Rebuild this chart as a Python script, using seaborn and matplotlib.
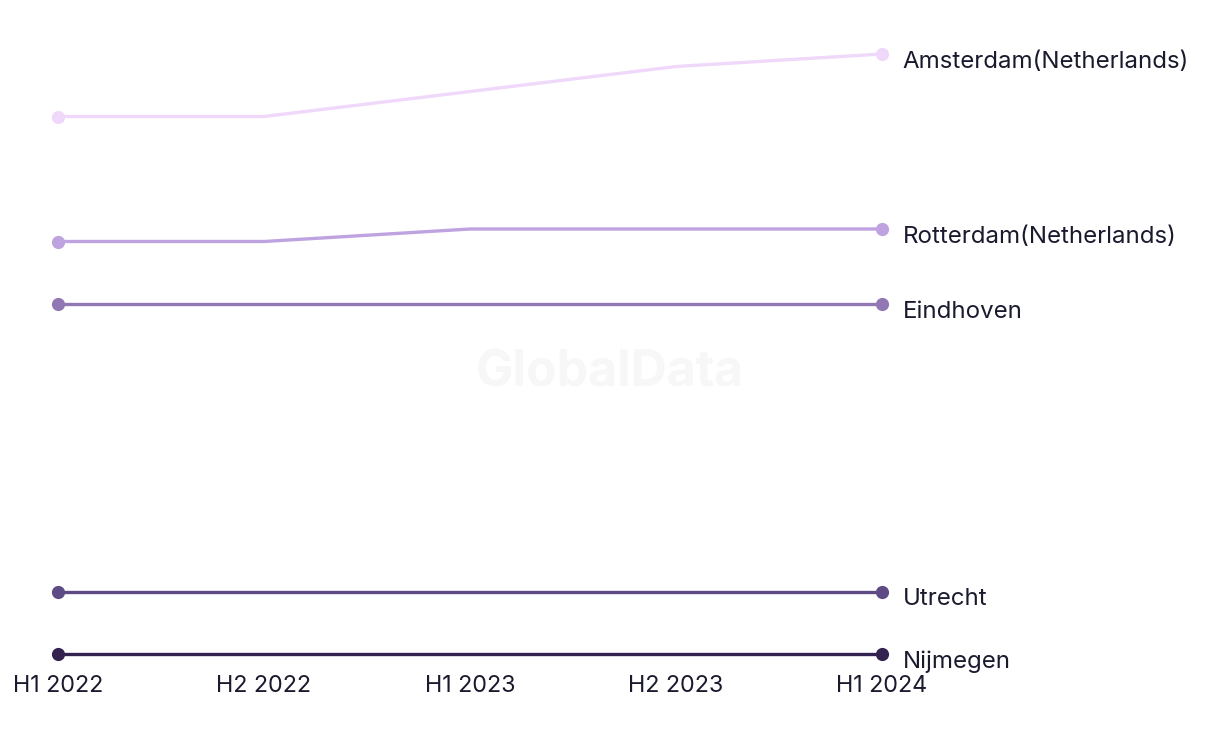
import pandas as pd
import seaborn as sns
import matplotlib.pyplot as plt

periods = ['H1 2022', 'H2 2022', 'H1 2023', 'H2 2023', 'H1 2024']
cities = ['Amsterdam(Netherlands)', 'Rotterdam(Netherlands)', 'Eindhoven', 'Utrecht', 'Nijmegen']
amsterdam = [53, 53, 55, 57, 58]
rotterdam = [43, 43, 44, 44, 44]
eindhoven = [38, 38, 38, 38, 38]
utrecht = [15, 15, 15, 15, 15]
nijmegen = [10, 10, 10, 10, 10]
colors = ['#f0d8fb', '#bfa3e0', '#9178b5', '#5e4a85', '#33224f']

series = [amsterdam, rotterdam, eindhoven, utrecht, nijmegen]
rows = []
for city, vals in zip(cities, series):
    for i, v in enumerate(vals):
        rows.append({'city': city, 'idx': i, 'value': v})
df = pd.DataFrame(rows)

sns.set_theme(style='white')
plt.rcParams['font.family'] = ['Inter', 'DejaVu Sans']

fig = plt.figure(figsize=(12.2, 7.44), dpi=100)
ax = fig.add_axes([58 / 1220, 1 - 654 / 744, 824 / 1220, 600 / 744])

# markers only on first and last period
sns.lineplot(data=df, x='idx', y='value', hue='city', palette=colors,
             hue_order=cities, marker='o', markersize=9.5, markeredgewidth=0,
             markevery=[0, len(periods) - 1],
             linewidth=2.4, legend=False, ax=ax)
for ln in ax.lines:
    ln.set_clip_on(False)

ax.set_xlim(0, 4)
ax.set_ylim(10, 58)
ax.set_xticks(range(len(periods)))
ax.set_xticklabels(periods, fontsize=16.8, color='#1a1a2e')
ax.set_yticks([])
ax.tick_params(axis='x', length=0, pad=15)
ax.set_xlabel('')
ax.set_ylabel('')
for s in ax.spines.values():
    s.set_visible(False)

for city, vals in zip(cities, series):
    ax.annotate(city, (4, vals[-1]), xytext=(15, -5.5), textcoords='offset points',
                ha='left', va='center', fontsize=17.3, color='#1a1a2e',
                annotation_clip=False)

fig.text(610 / 1220, 1 - 373 / 744, 'GlobalData', ha='center', va='center',
         fontsize=36, fontweight='bold', color='#f7f7f7', zorder=0)

fig.savefig('out.png', dpi=100)
